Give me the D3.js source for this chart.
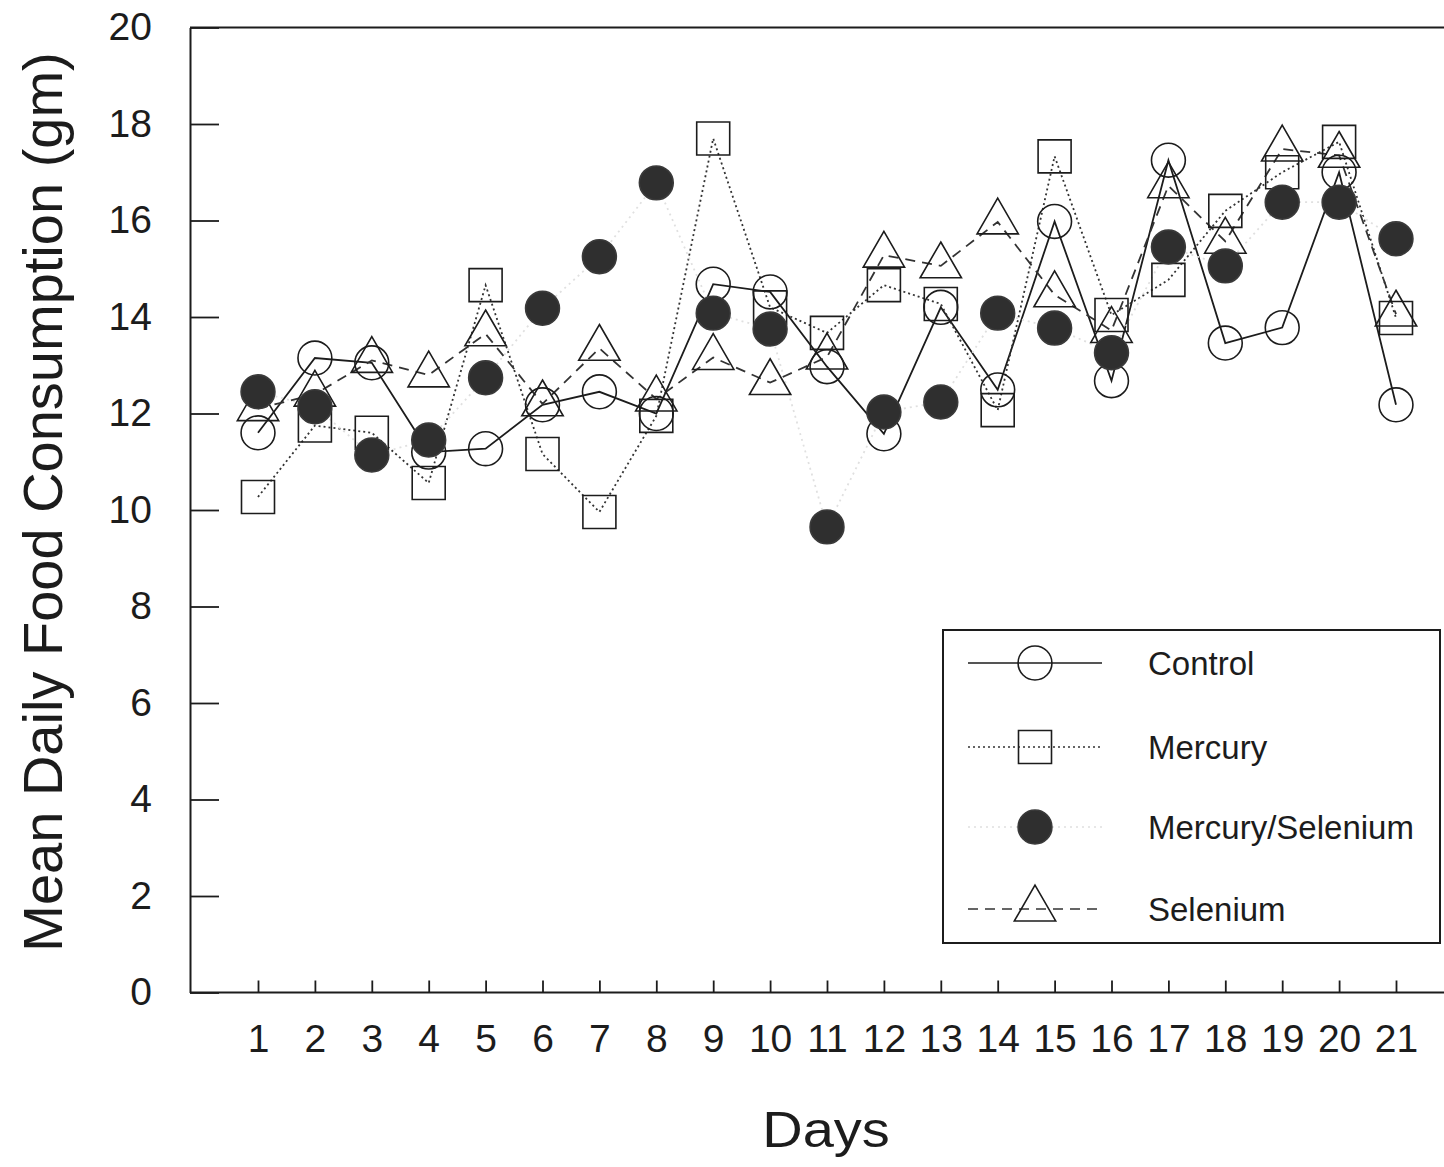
<!DOCTYPE html>
<html>
<head>
<meta charset="utf-8">
<script src="https://cdn.jsdelivr.net/npm/d3@7"></script>
<style>
  body { margin: 0; background: #fff; }
  svg { display: block; font-family: "Liberation Sans", Arial, sans-serif; }
</style>
</head>
<body>
<div class="chart"></div>
<script>
// data
const days = d3.range(1, 22);
const control = [11.6, 13.15, 13.05, 11.2, 11.27, 12.18, 12.45, 12.0, 14.68, 14.52, 12.97, 11.58, 14.2, 12.49, 15.98, 12.68, 17.25, 13.46, 13.78, 17.0, 12.18];
const mercury = [10.27, 11.75, 11.6, 10.56, 14.66, 11.16, 9.96, 11.95, 17.7, 14.2, 13.67, 14.66, 14.27, 12.07, 17.33, 14.04, 14.77, 16.2, 17.0, 17.63, 13.98];
const mercSel = [12.45, 12.14, 11.14, 11.45, 12.74, 14.18, 15.25, 16.78, 14.08, 13.75, 9.65, 12.03, 12.24, 14.08, 13.77, 13.26, 15.45, 15.06, 16.38, 16.38, 15.62];
const selenium = [12.1, 12.4, 13.1, 12.8, 13.65, 12.2, 13.35, 12.3, 13.16, 12.64, 13.17, 15.28, 15.06, 15.97, 14.46, 13.72, 16.72, 15.57, 17.48, 17.35, 14.06];
const yTicks = [0, 2, 4, 6, 8, 10, 12, 14, 16, 18, 20];
const seriesNames = ["Control", "Mercury", "Mercury/Selenium", "Selenium"];

const svgWidth = 1444, svgHeight = 1167;
const ink = "#1c1c1c";

const svg = d3.select(".chart")
  .append("svg")
  .attr("width", svgWidth)
  .attr("height", svgHeight);

// scales
const x = d3.scaleLinear().domain([1, 21]).range([258, 1396]);
const y = d3.scaleLinear().domain([0, 20]).range([992.5, 27.5]);
const left = 190, right = 1450;

// frame top line
svg.append("line")
  .attr("x1", left).attr("x2", right)
  .attr("y1", y(20)).attr("y2", y(20))
  .attr("stroke", ink).attr("stroke-width", 2);

// axes
const yAxis = svg.append("g")
  .attr("transform", `translate(${left},0)`)
  .call(d3.axisLeft(y).tickValues(yTicks).tickSizeInner(-29).tickSizeOuter(0).tickPadding(38));

const xAxis = svg.append("g")
  .attr("transform", `translate(0,${y(0)})`)
  .call(d3.axisBottom(x).tickValues(days).tickSizeInner(-12).tickSizeOuter(0).tickPadding(32));
xAxis.select(".domain").attr("d", `M${left},0H${right}`);

[yAxis, xAxis].forEach(g => {
  g.select(".domain").attr("stroke", ink).attr("stroke-width", 2);
  g.selectAll(".tick line").attr("stroke", ink).attr("stroke-width", 1.8);
  g.selectAll(".tick text")
    .attr("fill", ink)
    .style("font-size", "39px")
    .style("font-family", "'Liberation Sans', Arial, sans-serif");
});

// axis titles
svg.append("text")
  .attr("transform", "translate(62,502) rotate(-90)")
  .attr("text-anchor", "middle")
  .attr("fill", ink)
  .style("font-size", "56px")
  .text("Mean Daily Food Consumption (gm)");

svg.append("text")
  .attr("transform", "translate(826,1147) scale(1.12,1)")
  .attr("text-anchor", "middle")
  .attr("fill", ink)
  .style("font-size", "50px")
  .text("Days");

// series styles
const styles = [
  { values: control, dash: null, color: ink, width: 1.8, symbol: d3.symbolCircle, size: 900, fill: "none" },
  { values: mercury, dash: "2,3", color: "#333", width: 1.8, symbol: d3.symbolSquare, size: 1089, fill: "none" },
  { values: mercSel, dash: "2,4", color: "#e0e0e0", width: 1.8, symbol: d3.symbolCircle, size: 900, fill: "#2f2f2f" },
  { values: selenium, dash: "10,7", color: "#333", width: 1.8, symbol: d3.symbolTriangle, size: 740, fill: "none" }
];

const line = d3.line()
  .x((d, i) => x(days[i]))
  .y(d => y(d));

// lines
svg.append("g").selectAll("path")
  .data(styles)
  .enter()
  .append("path")
  .attr("d", s => line(s.values))
  .attr("fill", "none")
  .attr("stroke", s => s.color)
  .attr("stroke-width", s => s.width)
  .attr("stroke-dasharray", s => s.dash);

// markers: open ones first, filled circles on top
const order = [0, 1, 3, 2];
order.forEach(k => {
  const s = styles[k];
  svg.append("g").selectAll("path")
    .data(s.values)
    .enter()
    .append("path")
    .attr("transform", (d, i) => `translate(${x(days[i])},${y(d)})`)
    .attr("d", d3.symbol().type(s.symbol).size(s.size))
    .attr("fill", s.fill)
    .attr("stroke", s.fill === "none" ? ink : "#3a3a3a")
    .attr("stroke-width", 1.6);
});

// legend
const legend = svg.append("g");
legend.append("rect")
  .attr("x", 943).attr("y", 630)
  .attr("width", 497).attr("height", 313)
  .attr("fill", "#fff")
  .attr("stroke", ink).attr("stroke-width", 2);

const rowY = [663, 747, 827, 909];
styles.forEach((s, i) => {
  const g = legend.append("g").attr("transform", `translate(0,${rowY[i]})`);
  g.append("line")
    .attr("x1", 968).attr("x2", 1102)
    .attr("stroke", s.color).attr("stroke-width", 1.6)
    .attr("stroke-dasharray", s.dash);
  g.append("path")
    .attr("transform", "translate(1035,0)")
    .attr("d", d3.symbol().type(s.symbol).size(s.size))
    .attr("fill", s.fill)
    .attr("stroke", s.fill === "none" ? ink : "#3a3a3a")
    .attr("stroke-width", 1.6);
  g.append("text")
    .attr("x", 1148)
    .attr("dy", "0.36em")
    .attr("fill", ink)
    .style("font-size", "33px")
    .text(seriesNames[i]);
});
</script>
</body>
</html>
